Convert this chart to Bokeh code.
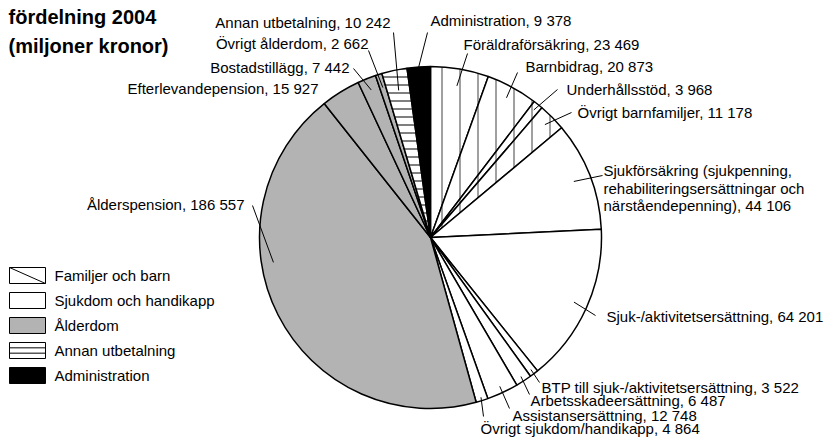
import math
from bokeh.plotting import figure
from bokeh.models import Range1d, ColumnDataSource
from bokeh.core.properties import value
from bokeh.embed import file_html
from bokeh.resources import INLINE

# ---------------- data ----------------
title_lines = ["fördelning 2004", "(miljoner kronor)"]

names = [
    "Föräldraförsäkring", "Barnbidrag", "Underhållsstöd", "Övrigt barnfamiljer",
    "Sjukförsäkring (sjukpenning,\nrehabiliteringsersättningar och\nnärståendepenning)",
    "Sjuk-/aktivitetsersättning", "BTP till sjuk-/aktivitetsersättning",
    "Arbetsskadeersättning", "Assistansersättning", "Övrigt sjukdom/handikapp",
    "Ålderspension", "Efterlevandepension", "Bostadstillägg", "Övrigt ålderdom",
    "Annan utbetalning", "Administration",
]
values = [23469, 20873, 3968, 11178, 44106, 64201, 3522, 6487, 12748, 4864,
          186557, 15927, 7442, 2662, 10242, 9378]
groups = [0, 0, 0, 0, 1, 1, 1, 1, 1, 1, 2, 2, 2, 2, 3, 4]

group_names = ["Familjer och barn", "Sjukdom och handikapp", "Ålderdom",
               "Annan utbetalning", "Administration"]

# ---------------- styles ----------------
g_fill = ["white", "white", "#b3b3b3", "white", "black"]
g_hatch = ["|", " ", " ", "-", " "]
g_hatch_color = ["#808080", "black", "black", "black", "black"]
g_hatch_scale = [18, 10, 10, 8, 10]
g_hatch_weight = [1.5, 1, 1, 1, 1]

FONT = "Liberation Sans"
FS = "15px"

W, H = 827, 437
def Y(y_img):  # picture pixel -> data y
    return H - y_img

CX, CY, R = 430, Y(237), 171

# label layout: (x, y, align, leader outer point or None, leader radius fraction, leader angle override)
layout = [
    (463, 44, "left", (467, 53), 0.90, None),
    (525, 66, "left", (517, 72), 0.93, None),
    (566, 89, "left", (557, 89), 0.96, None),
    (577, 112, "left", (571, 112), 0.94, None),
    (603, 170, "left", (602, 175), 0.90, None),
    (606, 316, "left", (595, 315), 0.92, None),
    (541, 387, "left", (539, 382), 0.97, None),
    (530, 400, "left", (529, 394), 0.97, None),
    (512, 415, "left", (509, 408), 0.96, None),
    (480, 428, "left", (483, 416), 0.98, None),
    (244, 204, "right", (252, 205), 0.93, 261.0),
    (318, 88, "right", None, 0.0, None),
    (349, 67, "right", (353, 68), 0.93, None),
    (368, 43, "right", (368, 50), 0.92, None),
    (390, 22, "right", (393, 32), 0.88, None),
    (430, 20, "left", (427, 32), 1.00, None),
]

p = figure(width=W, height=H, output_backend="svg", toolbar_location=None,
           x_range=Range1d(0, W), y_range=Range1d(0, H),
           min_border=0, outline_line_color=None)
p.xaxis.visible = False
p.yaxis.visible = False
p.grid.visible = False
p.background_fill_color = "white"
p.border_fill_color = "white"

# ---------------- wedges ----------------
total = float(sum(values))
cum = 0.0
starts, ends, mids = [], [], []
for v in values:
    a0 = cum / total
    cum += v
    a1 = cum / total
    starts.append(math.pi / 2 - 2 * math.pi * a0)
    ends.append(math.pi / 2 - 2 * math.pi * a1)
    mids.append((a0 + a1) / 2 * 360.0)

src = ColumnDataSource(dict(
    x=[CX] * len(values), y=[CY] * len(values),
    start=starts, end=ends,
    fill=[g_fill[g] for g in groups],
    hatch=[g_hatch[g] for g in groups],
    hcol=[g_hatch_color[g] for g in groups],
    hscale=[g_hatch_scale[g] for g in groups],
    hweight=[g_hatch_weight[g] for g in groups],
))
p.wedge(x="x", y="y", radius=R, start_angle="start", end_angle="end",
        direction="clock", source=src, fill_color="fill", line_color="black",
        line_width=1.5, hatch_pattern="hatch", hatch_color="hcol",
        hatch_scale="hscale", hatch_weight="hweight")

# ---------------- labels ----------------
def fmt(v):
    return f"{v:,}".replace(",", " ")

tx, ty, tt, ta = [], [], [], []
sx0, sy0, sx1, sy1 = [], [], [], []
for i, (name, v) in enumerate(zip(names, values)):
    lx, ly, al, lead, frac, ang = layout[i]
    lines = (name + ", " + fmt(v)).split("\n")
    for k, ln in enumerate(lines):
        tx.append(lx)
        ty.append(Y(ly + k * 17.5))
        tt.append(ln)
        ta.append(al)
    if lead is not None:
        a = math.radians(ang if ang is not None else mids[i])
        ix = CX + R * frac * math.sin(a)
        iy = CY + R * frac * math.cos(a)
        sx0.append(ix); sy0.append(iy)
        sx1.append(lead[0]); sy1.append(Y(lead[1]))

p.segment(x0=sx0, y0=sy0, x1=sx1, y1=sy1, line_color="black", line_width=1)
lsrc = ColumnDataSource(dict(x=tx, y=ty, t=tt, a=ta))
p.text(x="x", y="y", text="t", text_align="a", text_baseline="middle",
       source=lsrc, text_font=value(FONT), text_font_size=FS, text_color="black")

# ---------------- title ----------------
p.text(x=[8, 8], y=[Y(16), Y(45)], text=title_lines, text_align="left",
       text_baseline="middle", text_font=value(FONT), text_font_size="20px",
       text_font_style="bold", text_color="black")

# ---------------- legend ----------------
lg_x0, lg_x1 = 9, 45
lg_y = [275 + 25 * k for k in range(len(group_names))]
bh = 16
p.quad(left=[lg_x0] * 5, right=[lg_x1] * 5,
       top=[Y(y - bh / 2) for y in lg_y], bottom=[Y(y + bh / 2) for y in lg_y],
       fill_color=g_fill, line_color="black", line_width=1)
p.segment(x0=[lg_x0], y0=[Y(lg_y[0] - bh / 2)], x1=[lg_x1], y1=[Y(lg_y[0] + bh / 2)],
          line_color="black", line_width=1)
p.segment(x0=[lg_x0, lg_x0], x1=[lg_x1, lg_x1],
          y0=[Y(lg_y[3] - bh / 6), Y(lg_y[3] + bh / 6)],
          y1=[Y(lg_y[3] - bh / 6), Y(lg_y[3] + bh / 6)],
          line_color="black", line_width=1)
p.text(x=[54] * 5, y=[Y(y) for y in lg_y], text=group_names, text_align="left",
       text_baseline="middle", text_font=value(FONT), text_font_size=FS,
       text_color="black")

open("out.html", "w").write(file_html(p, INLINE))
